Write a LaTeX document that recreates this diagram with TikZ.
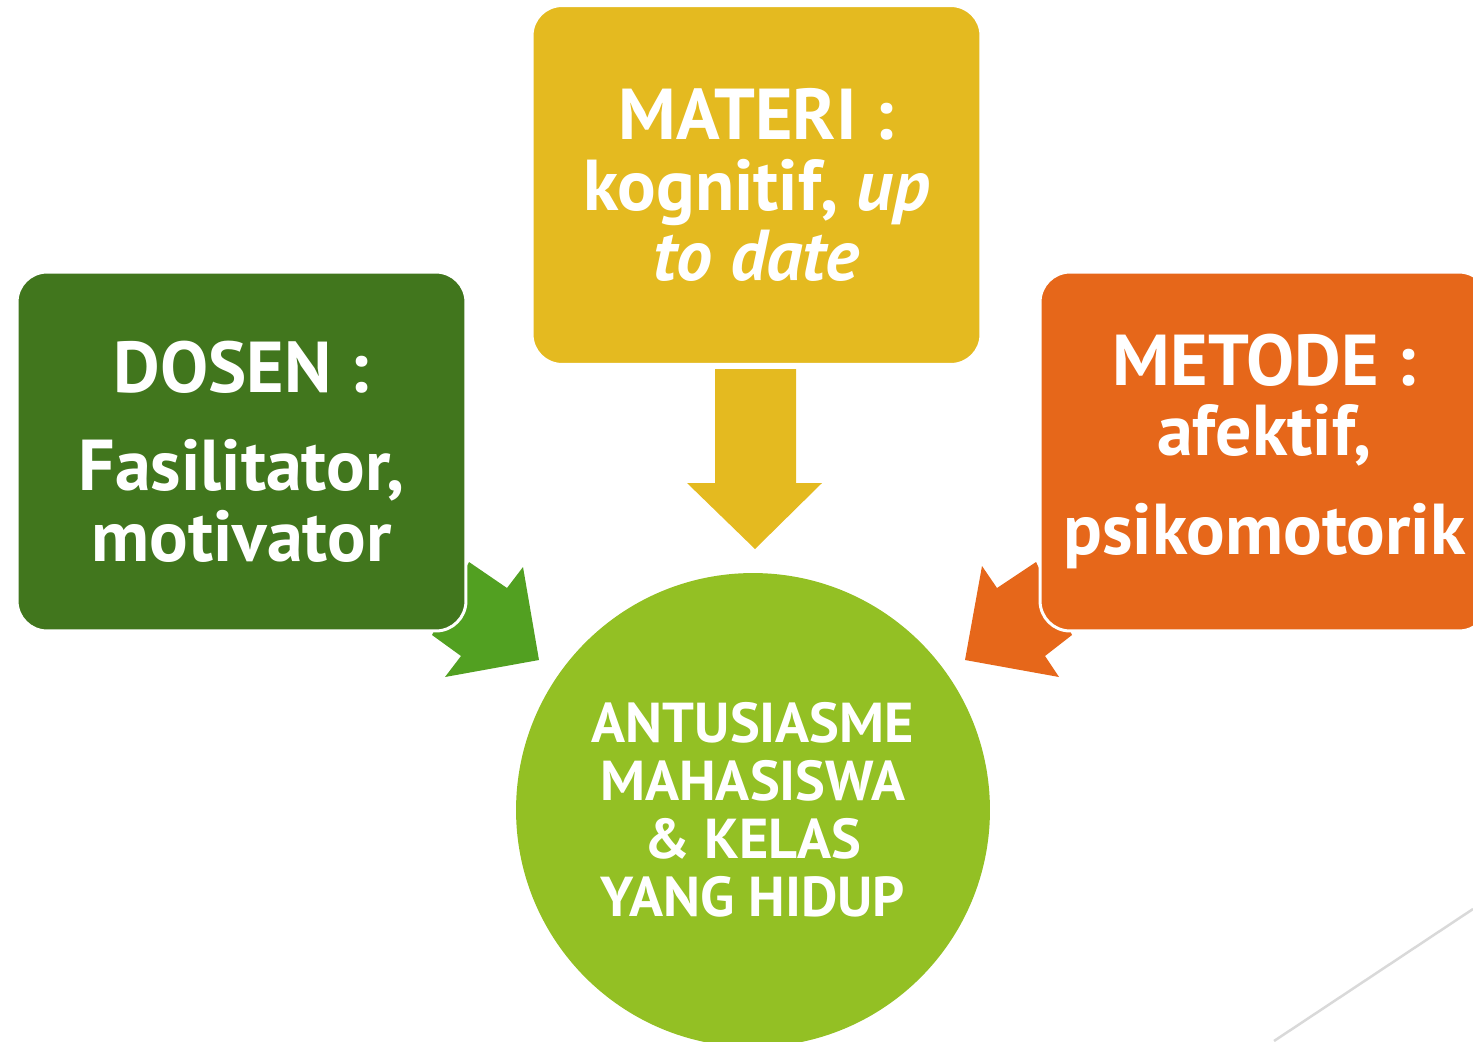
\documentclass[tikz,border=0pt]{standalone}
\usepackage{fontspec}
\setmainfont{PT Sans}
\usetikzlibrary{positioning}
\definecolor{dosengreen}{HTML}{41761D}
\definecolor{arrowgreen}{HTML}{52A021}
\definecolor{materiyellow}{HTML}{E4BA20}
\definecolor{metodeorange}{HTML}{E6671A}
\definecolor{hasilgreen}{HTML}{93C024}
\definecolor{edgegray}{HTML}{D9D9D9}
\begin{document}
\begin{tikzpicture}[x=0.02cm, y=-0.02cm]
    \tikzset{
        box/.style={rounded corners=0.6cm, draw=white, line width=0.06cm,
            minimum width=8.98cm, minimum height=7.18cm, inner sep=0pt,
            align=center, text=white, font=\bfseries\fontsize{41}{40}\selectfont},
        hasilbox/.style={circle, minimum size=9.48cm, inner sep=0pt, fill=hasilgreen,
            align=center, text=white, font=\bfseries\fontsize{32}{33}\selectfont}
    }
    \useasboundingbox (0,0) rectangle (1473,1041);
    \clip (0,0) rectangle (1473,1041);
    % thin line bottom right
    \draw [edgegray, line width=0.05cm] (1274,1041) -- (1473,909);
    % block arrows
    \fill [arrowgreen] (469,562) -- (507,588) -- (523,567) -- (539,660) -- (445,677) -- (461,656) -- (432,635) -- cycle;
    \fill [metodeorange] (982,566) -- (997,588) -- (1036,562) -- (1072,635) -- (1045,656) -- (1059,677) -- (965,660) -- cycle;
    \fill [materiyellow] (715,369) -- (796,369) -- (796,483) -- (822,483) -- (755,549) -- (687,483) -- (715,483) -- cycle;
    % boxes
    \node [box, fill=dosengreen] (dosen) at (241.5,451.5) {DOSEN :\\[16pt]Fasilitator,\\motivator};
    \node [box, fill=materiyellow] (materi) at (756.5,185) {MATERI :\\kognitif, \textit{up}\\\textit{to date}};
    \node [box, fill=metodeorange] (metode) at (1264.5,451.5) {METODE :\\afektif,\\[16pt]psikomotorik};
    \node [hasilbox] (hasil) at (753,810) {ANTUSIASME\\MAHASISWA\\\& KELAS\\YANG HIDUP};
\end{tikzpicture}
\end{document}
